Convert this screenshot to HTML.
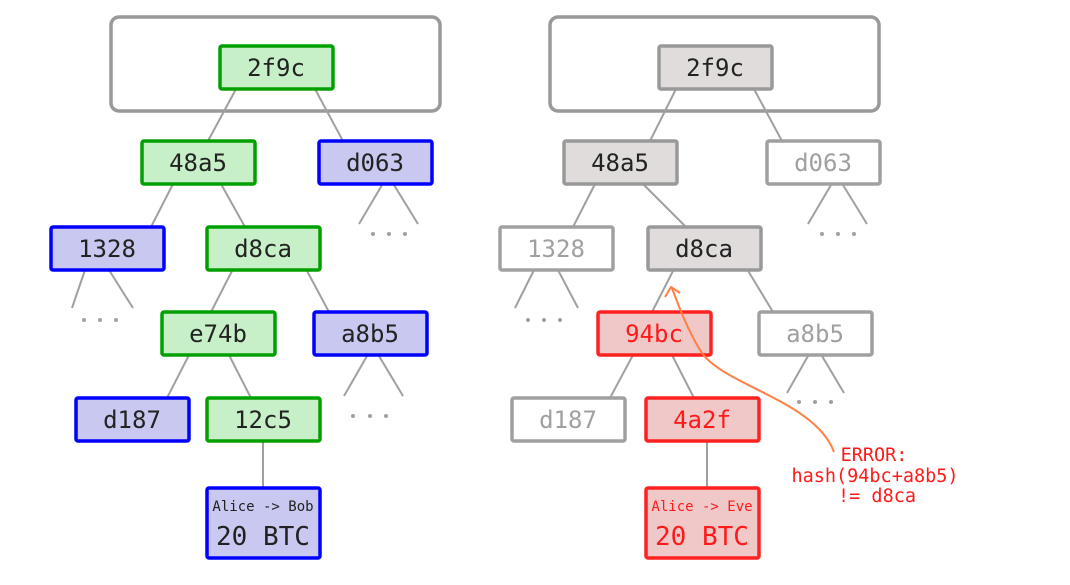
<!DOCTYPE html>
<html><head><meta charset="utf-8"><style>
html,body{margin:0;padding:0;background:#fff;}
svg{display:block}
text{font-family:"DejaVu Sans Mono","Liberation Mono",monospace;}
</style></head><body>
<svg width="1070" height="585" viewBox="0 0 1070 585" xmlns="http://www.w3.org/2000/svg">
<g stroke="#a0a0a0" stroke-width="2" fill="none">
<rect x="111" y="17" width="329" height="94" rx="8" stroke="#999" stroke-width="3.5"/>
<rect x="550" y="17" width="329" height="94" rx="8" stroke="#999" stroke-width="3.5"/>
<line x1="236" y1="89" x2="208" y2="141"/><line x1="315" y1="89" x2="343" y2="141"/>
<line x1="173" y1="184" x2="151" y2="227"/><line x1="221" y1="184" x2="245" y2="227"/>
<line x1="233" y1="269" x2="211" y2="312"/><line x1="306" y1="269" x2="329" y2="312"/>
<line x1="189" y1="355" x2="167" y2="398"/><line x1="229" y1="355" x2="251" y2="398"/>
<line x1="263" y1="441" x2="263" y2="488"/>
<line x1="382" y1="185" x2="359" y2="224"/><line x1="394" y1="185" x2="418" y2="224"/>
<line x1="85" y1="270" x2="72" y2="308"/><line x1="109" y1="270" x2="133" y2="308"/>
<line x1="367" y1="356" x2="344" y2="396"/><line x1="379" y1="356" x2="403" y2="396"/>
<line x1="676" y1="89" x2="650" y2="141"/><line x1="754" y1="89" x2="782" y2="141"/>
<line x1="595" y1="184" x2="573" y2="227"/><line x1="643" y1="184" x2="686" y2="227"/>
<line x1="674" y1="269" x2="652" y2="312"/><line x1="747" y1="269" x2="773" y2="312"/>
<line x1="633" y1="355" x2="610" y2="398"/><line x1="672" y1="355" x2="694" y2="398"/>
<line x1="707" y1="441" x2="707" y2="488"/>
<line x1="831" y1="185" x2="808" y2="224"/><line x1="843" y1="185" x2="867" y2="224"/>
<line x1="534" y1="270" x2="515" y2="308"/><line x1="558" y1="270" x2="578" y2="308"/>
<line x1="808" y1="356" x2="787" y2="393"/><line x1="822" y1="356" x2="844" y2="393"/>
</g>
<g fill="#a0a0a0">
<circle cx="373" cy="234" r="2"/><circle cx="389" cy="234" r="2"/><circle cx="405" cy="234" r="2"/>
<circle cx="84" cy="320" r="2"/><circle cx="100" cy="320" r="2"/><circle cx="116" cy="320" r="2"/>
<circle cx="353" cy="416" r="2"/><circle cx="370" cy="416" r="2"/><circle cx="386" cy="416" r="2"/>
<circle cx="822" cy="234" r="2"/><circle cx="838" cy="234" r="2"/><circle cx="854" cy="234" r="2"/>
<circle cx="528" cy="320" r="2"/><circle cx="544" cy="320" r="2"/><circle cx="560" cy="320" r="2"/>
<circle cx="799" cy="402" r="2"/><circle cx="815" cy="402" r="2"/><circle cx="831" cy="402" r="2"/>
</g>
<g stroke-width="3.5" font-size="24" text-anchor="middle">
<g fill="#c8f0c8" stroke="#00a000">
<rect x="220" y="46" width="113" height="43" rx="2"/>
<rect x="142" y="141" width="113" height="43" rx="2"/>
<rect x="207" y="227" width="113" height="43" rx="2"/>
<rect x="162" y="312" width="113" height="43" rx="2"/>
<rect x="207" y="398" width="113" height="43" rx="2"/>
</g>
<g fill="#c8c8f0" stroke="#0000ff">
<rect x="319" y="141" width="113" height="43" rx="2"/>
<rect x="51" y="227" width="113" height="43" rx="2"/>
<rect x="314" y="312" width="113" height="43" rx="2"/>
<rect x="76" y="398" width="113" height="43" rx="2"/>
<rect x="207" y="488" width="113" height="70" rx="2"/>
</g>
<g fill="#e0dcdc" stroke="#999">
<rect x="659" y="46" width="113" height="43" rx="2"/>
<rect x="564" y="141" width="113" height="43" rx="2"/>
<rect x="648" y="227" width="113" height="43" rx="2"/>
</g>
<g fill="#fff" stroke="#a0a0a0">
<rect x="767" y="141" width="113" height="43" rx="2"/>
<rect x="500" y="227" width="113" height="43" rx="2"/>
<rect x="759" y="312" width="113" height="43" rx="2"/>
<rect x="512" y="398" width="113" height="43" rx="2"/>
</g>
<g fill="#f0c8c8" stroke="#ff2020">
<rect x="598" y="312" width="113" height="43" rx="2"/>
<rect x="646" y="398" width="113" height="43" rx="2"/>
<rect x="646" y="488" width="113" height="70" rx="2"/>
</g>
<g stroke="none" fill="#222">
<text x="276" y="76">2f9c</text><text x="198" y="171">48a5</text><text x="375" y="171">d063</text>
<text x="107" y="257">1328</text><text x="263" y="257">d8ca</text><text x="218" y="342">e74b</text>
<text x="370" y="342">a8b5</text><text x="132" y="428">d187</text><text x="263" y="428">12c5</text>
<text x="263" y="511" font-size="14">Alice -&gt; Bob</text><text x="263" y="545" font-size="26">20 BTC</text>
<text x="715" y="76">2f9c</text><text x="620" y="171">48a5</text><text x="704" y="257">d8ca</text>
</g>
<g stroke="none" fill="#a0a0a0">
<text x="823" y="171">d063</text><text x="556" y="257">1328</text><text x="815" y="342">a8b5</text><text x="568" y="428">d187</text>
</g>
<g stroke="none" fill="#ff1a1a">
<text x="654" y="342">94bc</text><text x="702" y="428">4a2f</text>
<text x="702" y="511" font-size="14">Alice -&gt; Eve</text><text x="702" y="545" font-size="26">20 BTC</text>
</g>
</g>
<g stroke="#ff8040" stroke-width="2" fill="none">
<path d="M834,452 C815,400 720,385 700,350 C688,330 680,310 672,288"/>
<path d="M665,297 L671,287 L680,293"/>
</g>
<g fill="#ff1a1a" font-size="18.5" text-anchor="middle">
<text x="874" y="461">ERROR:</text>
<text x="875" y="482">hash(94bc+a8b5)</text>
<text x="877" y="502">!= d8ca</text>
</g>
</svg>
</body></html>
